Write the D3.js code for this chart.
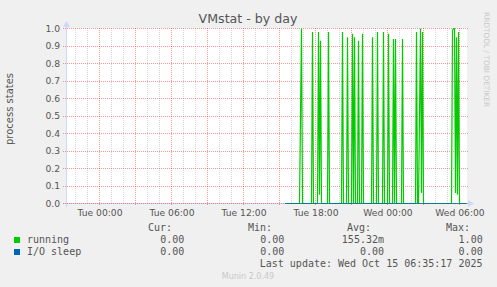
<!DOCTYPE html>
<html>
<head>
<meta charset="utf-8">
<script src="https://cdn.jsdelivr.net/npm/d3@7"></script>
<style>
  body { margin: 0; background: #f0f0f0; }
  svg { display: block; }
  .sans { font-family: "DejaVu Sans", sans-serif; }
  .mono { font-family: "DejaVu Sans Mono", monospace; white-space: pre; }
</style>
</head>
<body>
<svg id="chart" width="497" height="287"></svg>
<script>
// chart values
var title = "VMstat - by day";
var yLabel = "process states";
var viewStart = "2025-10-13 21:20", viewEnd = "2025-10-15 06:40";
var dataStart = "2025-10-14 15:30", dataEnd = "2025-10-15 06:35";
var yTicks = [0, 0.1, 0.2, 0.3, 0.4, 0.5, 0.6, 0.7, 0.8, 0.9, 1.0];

// running: samples every 5 min, zero except these
var runningTimes = [
  "2025-10-14 16:45", "2025-10-14 16:50", "2025-10-14 17:45", "2025-10-14 18:15",
  "2025-10-14 18:20", "2025-10-14 18:25", "2025-10-14 19:05", "2025-10-14 20:15",
  "2025-10-14 20:40", "2025-10-14 21:05", "2025-10-14 21:15", "2025-10-14 21:35",
  "2025-10-14 21:55", "2025-10-14 22:45", "2025-10-14 23:10", "2025-10-14 23:40",
  "2025-10-15 00:05", "2025-10-15 00:30", "2025-10-15 00:40", "2025-10-15 01:15",
  "2025-10-15 02:25", "2025-10-15 02:40", "2025-10-15 02:45", "2025-10-15 02:50",
  "2025-10-15 02:55", "2025-10-15 05:25", "2025-10-15 05:30", "2025-10-15 05:35",
  "2025-10-15 05:40", "2025-10-15 05:45", "2025-10-15 05:50", "2025-10-15 05:55"
];
var runningValues = [
  0.5, 1.0, 0.98, 0.98,
  0.05, 0.93, 0.98, 0.98,
  0.95, 0.97, 0.95, 0.93,
  0.97, 0.95, 0.98, 0.98,
  0.97, 0.94, 0.94, 0.94,
  0.98, 0.5, 1.0, 0.06,
  0.98, 0.99, 1.0, 1.0,
  0.06, 0.95, 0.05, 0.98
];
// I/O sleep: zero for every sample
var ioSleepTimes = [];
var ioSleepValues = [];

var seriesNames = ["running", "I/O sleep"];
var seriesColors = ["#00cc00", "#0066b3"];
var legendHeads = ["Cur:", "Min:", "Avg:", "Max:"];
var legendCur = ["0.00 ", "0.00 "];
var legendMin = ["0.00 ", "0.00 "];
var legendAvg = ["155.32m", "0.00 "];
var legendMax = ["1.00 ", "0.00 "];
var lastUpdate = "Last update: Wed Oct 15 06:35:17 2025";
var version = "Munin 2.0.49";

var parse = d3.timeParse("%Y-%m-%d %H:%M");
var svg = d3.select("#chart");
var plotL = 67, plotR = 467, plotT = 28, plotB = 203;

var x = d3.scaleTime()
    .domain([parse(viewStart), parse(viewEnd)])
    .range([plotL + 0.5, plotR + 0.5]);
var y = d3.scaleLinear()
    .domain([0, 1])
    .range([plotB + 0.5, plotT + 0.5]);

// snap grid lines to pixel centres like rrdtool does
function gy(v) { return Math.round(y(v) - 0.5) + 0.5; }

function buildSeries(times, values) {
  var lookup = {};
  times.forEach(function (t, i) { lookup[+parse(t)] = values[i]; });
  return d3.timeMinute.every(5).range(parse(dataStart), d3.timeMinute.offset(parse(dataEnd), 1))
    .map(function (t) { return { t: t, v: lookup[+t] || 0 }; });
}
var running = buildSeries(runningTimes, runningValues);
var ioSleep = buildSeries(ioSleepTimes, ioSleepValues);

svg.append("rect").attr("width", 497).attr("height", 287).attr("fill", "#f0f0f0");
svg.append("rect")
    .attr("x", plotL).attr("y", plotT)
    .attr("width", plotR - plotL).attr("height", plotB - plotT + 1)
    .attr("fill", "#ffffff");

// grid
var majorX = x.ticks(d3.timeHour.every(3));
var minorX = x.ticks(d3.timeHour.every(1)).filter(function (d) { return d.getHours() % 3 != 0; });

svg.append("g").selectAll("line").data(minorX).enter().append("line")
    .attr("x1", x).attr("x2", x)
    .attr("y1", plotT).attr("y2", plotB)
    .attr("stroke", "rgba(140,140,140,0.32)")
    .attr("stroke-dasharray", "1,1");

svg.append("g").selectAll("line").data(majorX).enter().append("line")
    .attr("x1", x).attr("x2", x)
    .attr("y1", plotT).attr("y2", plotB + 3)
    .attr("stroke", "rgba(255,0,0,0.4)")
    .attr("stroke-dasharray", "1,1");

// axes lines + arrows
var axisColor = "#cfd6f8";
svg.append("line").attr("x1", plotL - 4).attr("x2", plotR + 2)
    .attr("y1", y(0)).attr("y2", y(0)).attr("stroke", axisColor);
svg.append("line").attr("x1", plotL - 0.5).attr("x2", plotL - 0.5)
    .attr("y1", plotB + 4).attr("y2", plotT - 3).attr("stroke", axisColor);
svg.append("path").attr("fill", axisColor)
    .attr("d", "M" + (plotR + 1) + "," + (y(0) - 3.5) + "L" + (plotR + 7) + "," + y(0) + "L" + (plotR + 1) + "," + (y(0) + 3.5) + "Z");
svg.append("path").attr("fill", axisColor)
    .attr("d", "M" + (plotL - 4) + "," + (plotT - 1) + "L" + (plotL - 0.5) + "," + (plotT - 7) + "L" + (plotL + 3) + "," + (plotT - 1) + "Z");

svg.append("g").selectAll("line").data(yTicks).enter().append("line")
    .attr("x1", plotL - 4).attr("x2", plotR + 2)
    .attr("y1", gy).attr("y2", gy)
    .attr("stroke", "rgba(255,0,0,0.4)")
    .attr("stroke-dasharray", "1,1");

// series
var line = d3.line()
    .x(function (d) { return x(d.t); })
    .y(function (d) { return y(d.v); });

svg.append("path").datum(running)
    .attr("d", line).attr("fill", "none")
    .attr("stroke", seriesColors[0]).attr("stroke-width", 1.2);
svg.append("path").datum(ioSleep)
    .attr("d", line).attr("fill", "none")
    .attr("stroke", seriesColors[1]).attr("stroke-width", 1);

// axis labels
var xAxis = d3.axisBottom(x)
    .tickValues(x.ticks(d3.timeHour.every(6)))
    .tickFormat(d3.timeFormat("%a %H:%M"))
    .tickSize(0).tickPadding(0);
var gx = svg.append("g").attr("transform", "translate(0," + (plotB + 4) + ")").call(xAxis);
gx.select(".domain").remove();
gx.selectAll("text").attr("class", "sans").attr("fill", "#555").attr("font-size", 9.2).attr("dy", "0.95em");

var yAxis = d3.axisLeft(y)
    .tickValues(yTicks)
    .tickFormat(d3.format(".1f"))
    .tickSize(0).tickPadding(0);
var gyAxis = svg.append("g").attr("transform", "translate(" + 60 + ",0)").call(yAxis);
gyAxis.select(".domain").remove();
gyAxis.selectAll("text").attr("class", "sans").attr("fill", "#555").attr("font-size", 9.2);

// title, y label, watermark
svg.append("text").attr("class", "sans")
    .attr("x", 248).attr("y", 23).attr("text-anchor", "middle")
    .attr("font-size", 12.6).attr("fill", "#555").text(title);

svg.append("text").attr("class", "sans")
    .attr("transform", "translate(13,109) rotate(-90)")
    .attr("text-anchor", "middle").attr("font-size", 10)
    .attr("fill", "#555").text(yLabel);

svg.append("text").attr("class", "sans")
    .attr("transform", "translate(484,12) rotate(90)")
    .attr("font-size", 7.4).attr("fill", "#c8c8c8")
    .text("RRDTOOL / TOBI OETIKER");

// legend
var headX = [172, 272, 371, 470];
var colX = [184.3, 284.3, 384, 482.7];
var lg = svg.append("g").attr("class", "mono").attr("font-size", 10).attr("fill", "#555");

lg.selectAll("text.head").data(legendHeads).enter().append("text")
    .attr("class", "head")
    .attr("x", function (d, i) { return headX[i]; })
    .attr("y", 231).attr("text-anchor", "end").text(function (d) { return d; });

seriesNames.forEach(function (name, i) {
  var ry = 243 + i * 12;
  lg.append("rect").attr("x", 14).attr("y", ry - 6)
      .attr("width", 6).attr("height", 6).attr("fill", seriesColors[i]);
  lg.append("text").attr("x", 27).attr("y", ry).text(name);
  [legendCur, legendMin, legendAvg, legendMax].forEach(function (col, c) {
    lg.append("text").attr("x", colX[c]).attr("y", ry)
        .attr("text-anchor", "end").text(col[i]);
  });
});

lg.append("text").attr("x", 482.5).attr("y", 267)
    .attr("text-anchor", "end").text(lastUpdate);

svg.append("text").attr("class", "sans")
    .attr("x", 248).attr("y", 279).attr("text-anchor", "middle")
    .attr("font-size", 8).attr("fill", "#c8c8c8").text(version);
</script>
</body>
</html>
